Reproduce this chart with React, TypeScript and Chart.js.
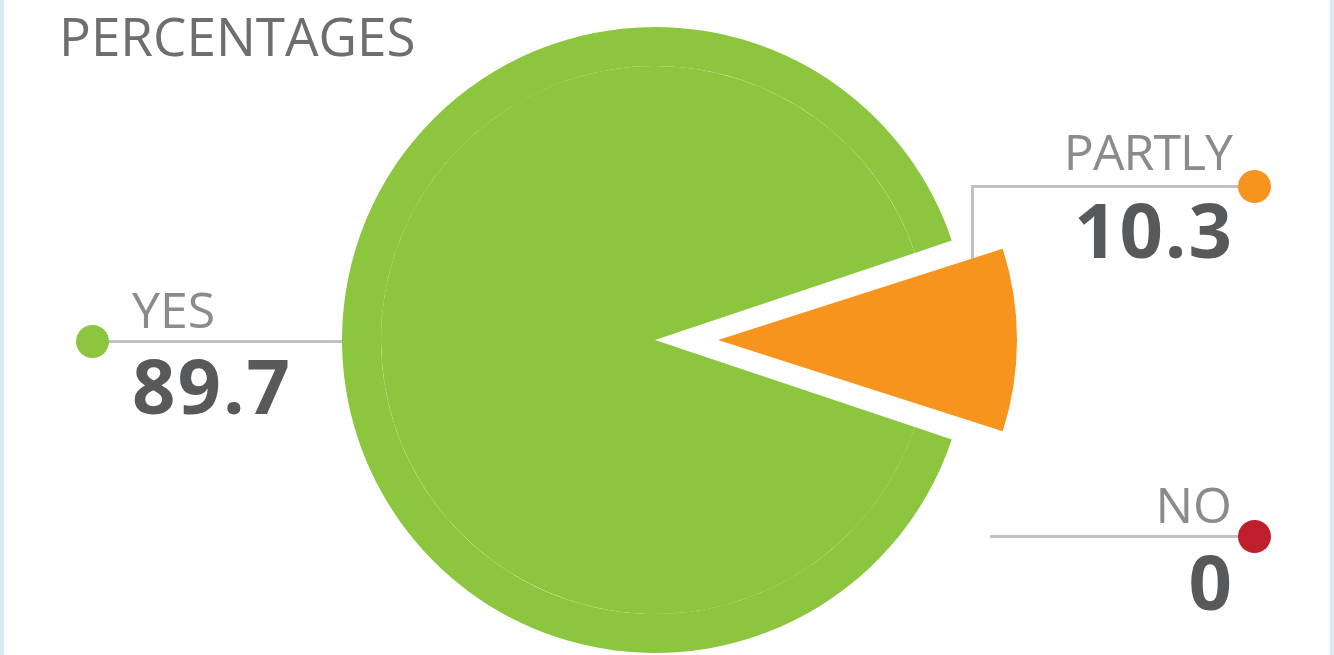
import React, { useEffect, useRef } from 'react';
import { Chart, registerables } from 'chart.js';

Chart.register(...registerables);

const title = 'PERCENTAGES';
const categories = ['YES', 'PARTLY', 'NO'];
const values = [89.7, 10.3, 0];
const sliceColors = ['#8cc63f', '#f7941d', '#be1e2d'];

const FONT = '"Open Sans", "Noto Sans", sans-serif';
const LINE = '#c0c1c4';
const LABEL = '#8a8b8e';
const VALUE = '#58595b';

const fmt = (v: number) => String(v);

export default function App() {
  const ref = useRef<HTMLCanvasElement>(null);

  useEffect(() => {
    const total = values.reduce((a, b) => a + b, 0);
    const rotation = 90 + (180 * values[1]) / total;
    const chart = new Chart(ref.current as HTMLCanvasElement, {
      type: 'pie',
      data: {
        labels: categories,
        datasets: [
          {
            data: values,
            backgroundColor: sliceColors.map((c, i) => (i === 1 ? 'rgba(0,0,0,0)' : c)),
            borderWidth: 0,
            weight: 39,
          } as any,
          {
            data: values,
            backgroundColor: sliceColors,
            borderWidth: 0,
            offset: [0, 252, 0],
            weight: 274,
          } as any,
        ],
      },
      options: {
        responsive: false,
        animation: false,
        events: [],
        radius: 313,
        rotation,
        layout: { padding: { left: 0, right: 24, top: 25, bottom: 0 } },
        plugins: {
          legend: { display: false },
          tooltip: { enabled: false },
          title: { display: false },
        },
      } as any,
    });
    return () => chart.destroy();
  }, []);

  const abs = (s: React.CSSProperties): React.CSSProperties => ({ position: 'absolute', ...s });
  const dot = (x: number, y: number, color: string) => (
    <div style={abs({ left: x - 16.5, top: y - 16.5, width: 33, height: 33, borderRadius: '50%', background: color, zIndex: 3 })} />
  );
  const labelStyle = (size: number, weight: number, color: string, spacing = 0): React.CSSProperties => ({
    fontFamily: FONT,
    fontSize: size,
    fontWeight: weight,
    color,
    lineHeight: 1,
    letterSpacing: spacing,
    whiteSpace: 'nowrap',
    zIndex: 3,
  });

  return (
    <div style={{ position: 'absolute', left: 0, top: 0, width: 1334, height: 655, background: '#fff', overflow: 'hidden' }}>
      {/* side borders */}
      <div style={abs({ left: 0, top: 0, width: 4, height: 655, background: '#d6eaf9', zIndex: 4 })} />
      <div style={abs({ left: 1330, top: 0, width: 4, height: 655, background: '#d6eaf9', zIndex: 4 })} />

      {/* leader lines (behind the pie) */}
      <div style={abs({ left: 92, top: 339.5, width: 272, height: 3, background: LINE, zIndex: 0 })} />
      <div style={abs({ left: 971, top: 184.5, width: 283, height: 3, background: LINE, zIndex: 0 })} />
      <div style={abs({ left: 971, top: 184.5, width: 3, height: 103, background: LINE, zIndex: 0 })} />
      <div style={abs({ left: 990, top: 534.5, width: 264, height: 3, background: LINE, zIndex: 0 })} />

      <canvas ref={ref} width={1334} height={655} style={abs({ left: 0, top: 0, zIndex: 1 })} />

      {/* title */}
      <div style={abs({ left: 59, top: 9, ...labelStyle(53, 400, '#6d6e71') })}>{title}</div>

      {/* YES */}
      {dot(92, 341, sliceColors[0])}
      <div style={abs({ left: 132, top: 284, ...labelStyle(50, 400, LABEL) })}>{categories[0]}</div>
      <div style={abs({ left: 132, top: 347, ...labelStyle(76, 700, VALUE, 2) })}>{fmt(values[0])}</div>

      {/* PARTLY */}
      {dot(1254, 186, sliceColors[1])}
      <div style={abs({ right: 1334 - 1232, top: 126, textAlign: 'right', ...labelStyle(50, 400, LABEL, -1) })}>{categories[1]}</div>
      <div style={abs({ right: 1334 - 1234, top: 191, textAlign: 'right', ...labelStyle(76, 700, VALUE, 2) })}>{fmt(values[1])}</div>

      {/* NO */}
      {dot(1254, 536, sliceColors[2])}
      <div style={abs({ right: 1334 - 1232, top: 479, textAlign: 'right', ...labelStyle(50, 400, LABEL) })}>{categories[2]}</div>
      <div style={abs({ right: 1334 - 1232, top: 543, textAlign: 'right', ...labelStyle(76, 700, VALUE) })}>{fmt(values[2])}</div>
    </div>
  );
}
